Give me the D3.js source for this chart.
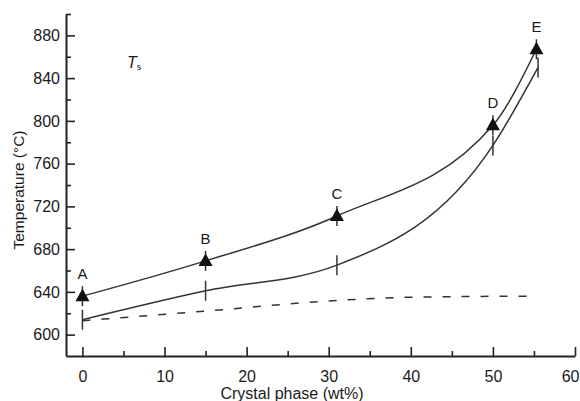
<!DOCTYPE html>
<meta charset="utf-8">
<style>
body { margin: 0; background: #fff; }
text { font-family: "Liberation Sans", Arial, sans-serif; fill: #1a1a1a; }
.axis path, .axis line { stroke: #222; }
.axis path { stroke-width: 2; }
.axis text { font-size: 16px; fill: #1a1a1a; }
.curve { fill: none; stroke: #333; stroke-width: 1.5; }
</style>
<svg width="580" height="401"></svg>
<script src="https://cdn.jsdelivr.net/npm/d3@7"></script>
<script>

// upper curve (triangles), points A..E
var crystal = [0, 15, 31, 50, 55.3];
var tempUpper = [636, 669, 711, 796, 867];
var pointLabels = ["A", "B", "C", "D", "E"];

// middle curve (tick marks)
var crystalMid = [0, 15, 31, 50, 55.5];
var tempMid = [614, 641, 665, 777, 850];

// dashed curve
var crystalDash = [0, 15, 31, 40, 55];
var tempDash = [613, 622, 632, 635, 636];

var yTicks = [600, 640, 680, 720, 760, 800, 840, 880];
var yMinor = [620, 660, 700, 740, 780, 820, 860, 900];
var xTicks = [0, 10, 20, 30, 40, 50, 60];
var xMinor = [5, 15, 25, 35, 45, 55];

var svg = d3.select("svg");

var x = d3.scaleLinear().domain([-2, 60]).range([66, 575]),
    y = d3.scaleLinear().domain([580, 900]).range([356, 14]);

function zip(xs, ys) {
  return xs.map(function(d, i) { return [d, ys[i]]; });
}

var upper = zip(crystal, tempUpper),
    mid = zip(crystalMid, tempMid),
    dash = zip(crystalDash, tempDash);

// axes
var gx = svg.append("g")
    .attr("class", "axis")
    .attr("transform", "translate(0,356)")
    .call(d3.axisBottom(x).tickValues(xTicks).tickSizeInner(-9).tickSizeOuter(0).tickPadding(15));

// keep the last label inside the window
gx.selectAll(".tick text")
    .filter(function(d) { return d === 60; })
    .attr("text-anchor", "end")
    .attr("x", 4);

svg.append("g")
    .attr("class", "axis minor")
    .attr("transform", "translate(0,356)")
    .call(d3.axisBottom(x).tickValues(xMinor).tickSizeInner(-5).tickSizeOuter(0).tickFormat(""))
    .select(".domain").remove();

svg.append("g")
    .attr("class", "axis")
    .attr("transform", "translate(66,0)")
    .call(d3.axisLeft(y).tickValues(yTicks).tickSizeInner(-9).tickSizeOuter(0).tickPadding(6));

svg.append("g")
    .attr("class", "axis minor")
    .attr("transform", "translate(66,0)")
    .call(d3.axisLeft(y).tickValues(yMinor).tickSizeInner(-5).tickSizeOuter(0).tickFormat(""))
    .select(".domain").remove();

svg.selectAll(".axis line").attr("stroke-width", 1.6);

// curves
var line = d3.line()
    .x(function(d) { return x(d[0]); })
    .y(function(d) { return y(d[1]); })
    .curve(d3.curveMonotoneX);

svg.append("path").attr("class", "curve").attr("d", line(upper));
svg.append("path").attr("class", "curve").attr("d", line(mid));
svg.append("path")
    .attr("class", "curve")
    .attr("stroke", "#222")
    .attr("stroke-width", 2.2)
    .attr("stroke-dasharray", "8,11")
    .attr("d", line(dash));

// vertical tick marks on both curves
svg.selectAll(".vt")
    .data(upper.concat(mid))
    .enter().append("line")
      .attr("class", "vt")
      .attr("x1", function(d) { return x(d[0]); })
      .attr("x2", function(d) { return x(d[0]); })
      .attr("y1", function(d) { return y(d[1]) - 10; })
      .attr("y2", function(d) { return y(d[1]) + 10; })
      .attr("stroke", "#333")
      .attr("stroke-width", 1.5);

// triangles
svg.selectAll(".tri")
    .data(upper)
    .enter().append("path")
      .attr("class", "tri")
      .attr("d", "M0,-7.5L7,5L-7,5Z")
      .attr("fill", "#111")
      .attr("transform", function(d) { return "translate(" + x(d[0]) + "," + y(d[1]) + ")"; });

svg.selectAll(".plabel")
    .data(upper)
    .enter().append("text")
      .attr("class", "plabel")
      .attr("x", function(d) { return x(d[0]); })
      .attr("y", function(d) { return y(d[1]) - 17; })
      .attr("text-anchor", "middle")
      .style("font-size", "15px")
      .text(function(d, i) { return pointLabels[i]; });

// T_s label
var ts = svg.append("text").attr("x", 127).attr("y", 68).style("font-size", "16px");
ts.append("tspan").style("font-style", "italic").text("T");
ts.append("tspan").attr("dy", 2).style("font-size", "9px").text("s");

// axis titles
svg.append("text")
    .attr("transform", "translate(24,190) rotate(-90)")
    .attr("text-anchor", "middle")
    .style("font-size", "15.5px")
    .text("Temperature (\u00b0C)");

svg.append("text")
    .attr("x", 292)
    .attr("y", 399)
    .attr("text-anchor", "middle")
    .style("font-size", "16px")
    .text("Crystal phase (wt%)");

</script>
